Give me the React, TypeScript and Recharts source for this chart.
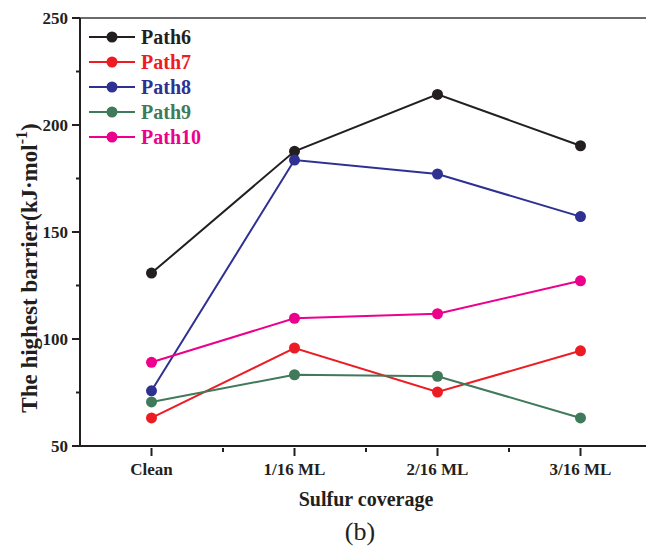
import React from 'react';
import {LineChart, Line, XAxis, YAxis, Legend} from 'recharts';

const categories = ['Clean', '1/16 ML', '2/16 ML', '3/16 ML'];
const path6 = [130.8, 187.7, 214.3, 190.3];
const path7 = [63.1, 95.8, 75.2, 94.5];
const path8 = [75.8, 183.6, 177.1, 157.2];
const path9 = [70.6, 83.3, 82.6, 63.1];
const path10 = [89.1, 109.7, 111.8, 127.2];
const yTicks = [50, 75, 100, 125, 150, 175, 200, 225, 250];
const topTicks = [0, 1, 2, 3, 4, 5, 6, 7, 8, 9, 10];

const series = [
  {key: 'Path6', values: path6, color: '#231f20'},
  {key: 'Path7', values: path7, color: '#ed1c24'},
  {key: 'Path8', values: path8, color: '#2e3192'},
  {key: 'Path9', values: path9, color: '#3f7a5a'},
  {key: 'Path10', values: path10, color: '#ec008c'},
];

const data = categories.map((name, i) => {
  const row: Record<string, string | number> = {name};
  series.forEach(s => { row[s.key] = s.values[i]; });
  return row;
});

const FONT = '"Liberation Serif", "Times New Roman", Times, serif';
const AXIS = '#231f20';
const W = 660;
const H = 547;
const margin = {top: 17, right: 8, left: 0, bottom: 71};
const Y_W = 80;
const band = (W - margin.left - margin.right - Y_W) / categories.length;

const YTick = (props: any) => {
  const {x, y, payload} = props;
  const major = payload.value % 50 === 0;
  return (
    <g>
      <line x1={x - (major ? 8 : 4)} x2={x} y1={y} y2={y} stroke={AXIS} strokeWidth={2} />
      {major && (
        <text x={x - 12} y={y} dy="0.35em" textAnchor="end" fontFamily={FONT} fontWeight="bold" fontSize={17} fill={AXIS}>
          {payload.value}
        </text>
      )}
    </g>
  );
};

const XTick = (props: any) => {
  const {x, y, payload, index} = props;
  return (
    <g>
      <line x1={x} x2={x} y1={y} y2={y + 8} stroke={AXIS} strokeWidth={2} />
      {index < categories.length - 1 && (
        <line x1={x + band / 2} x2={x + band / 2} y1={y} y2={y + 4} stroke={AXIS} strokeWidth={2} />
      )}
      <text x={x} y={y + 27} textAnchor="middle" fontFamily={FONT} fontWeight="bold" fontSize={17} fill={AXIS}>
        {payload.value}
      </text>
    </g>
  );
};

const YTitle = (props: any) => {
  const {viewBox} = props;
  const x = viewBox.x + 37;
  const y = viewBox.y + viewBox.height / 2 + 36;
  return (
    <text x={x} y={y} transform={`rotate(-90, ${x}, ${y})`} textAnchor="middle" fontFamily={FONT} fontWeight="bold" fontSize={23} fill={AXIS}>
      The highest barrier(kJ·mol
      <tspan fontSize={16} dy={-10}>-1</tspan>
      <tspan dy={10}>)</tspan>
    </text>
  );
};

const XTitle = (props: any) => {
  const {viewBox} = props;
  const cx = viewBox.x + viewBox.width / 2;
  return (
    <g>
      <text x={cx} y={506} textAnchor="middle" fontFamily={FONT} fontWeight="bold" fontSize={20} fill={AXIS}>
        Sulfur coverage
      </text>
      <text x={cx - 6} y={540} textAnchor="middle" fontFamily={FONT} fontSize={26} fill={AXIS}>
        (b)
      </text>
    </g>
  );
};

const PathLegend = () => (
  <svg width={150} height={130}>
    {series.map((s, i) => (
      <g key={s.key} transform={`translate(0, ${13 + i * 25})`}>
        <line x1={1} x2={47} y1={0} y2={0} stroke={s.color} strokeWidth={2} />
        <circle cx={24} cy={0} r={5.5} fill={s.color} />
        <text x={53} y={0} dy="0.35em" fontFamily={FONT} fontWeight="bold" fontSize={20} fill={s.color}>
          {s.key}
        </text>
      </g>
    ))}
  </svg>
);

export default function App() {
  return (
    <div style={{position: 'absolute', left: 0, top: 0, width: 646, height: 547, overflow: 'hidden', background: '#fff'}}>
      <LineChart width={W} height={H} data={data} margin={margin}>
        <XAxis
          xAxisId="top"
          orientation="top"
          type="number"
          domain={[0, 10]}
          ticks={topTicks}
          tick={false}
          tickSize={3}
          height={1}
          stroke="#3a3a3a"
          strokeWidth={1.5}
        />
        <XAxis
          xAxisId="cat"
          dataKey="name"
          scale="band"
          height={30}
          tickLine={false}
          tickSize={0}
          tick={<XTick />}
          axisLine={{stroke: AXIS, strokeWidth: 2}}
          label={<XTitle />}
        />
        <YAxis
          width={Y_W}
          type="number"
          domain={[50, 250]}
          ticks={yTicks}
          interval={0}
          tickLine={false}
          tickSize={0}
          tickMargin={0}
          tick={<YTick />}
          axisLine={{stroke: AXIS, strokeWidth: 2}}
          label={<YTitle />}
        />
        <Legend
          layout="vertical"
          align="center"
          verticalAlign="middle"
          content={<PathLegend />}
          wrapperStyle={{left: 88, top: 24, width: 150, height: 130}}
        />
        {series.map(s => (
          <Line
            key={s.key}
            xAxisId="cat"
            dataKey={s.key}
            stroke={s.color}
            strokeWidth={2}
            dot={{r: 5.5, fill: s.color, stroke: s.color, strokeWidth: 0}}
            activeDot={false}
            isAnimationActive={false}
          />
        ))}
      </LineChart>
    </div>
  );
}
